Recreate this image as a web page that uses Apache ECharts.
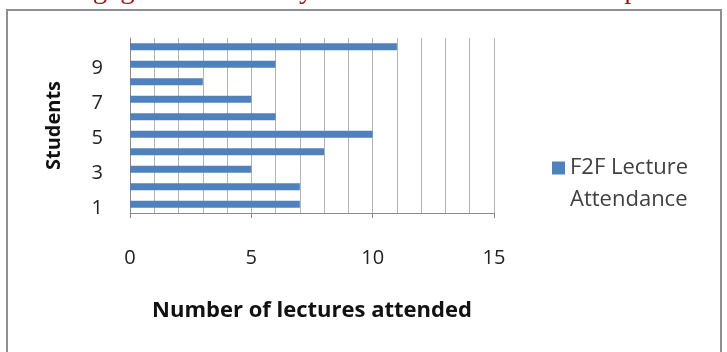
<!DOCTYPE html>
<html>
<head>
<meta charset="utf-8">
<script src="https://cdn.jsdelivr.net/npm/echarts@6/dist/echarts.min.js"></script>
<style>
  html, body { margin: 0; padding: 0; background: #fff; }
  #chart { width: 727px; height: 352px; }
</style>
</head>
<body>
<div id="chart"></div>
<script>
// Lecture attendance per student
const students = ['1', '2', '3', '4', '5', '6', '7', '8', '9', '10'];
const attendance = [7, 7, 5, 8, 10, 6, 5, 3, 6, 11];
const seriesName = 'F2F Lecture Attendance';
const xTicks = [0, 5, 10, 15];

const FONT = '"Open Sans", "Noto Sans", sans-serif';
const gridColor = '#b4b4b4';
const axisColor = '#8a8a8a';

const chart = echarts.init(document.getElementById('chart'), null, { renderer: 'canvas' });

chart.setOption({
  backgroundColor: '#ffffff',
  animation: false,
  graphic: [
    {
      type: 'text',
      left: -3,
      top: -24,
      silent: true,
      style: {
        text: 'show engagement that they are unable to convert into positive',
        font: '29px "Liberation Serif", "DejaVu Serif", serif',
        fill: '#9b1b1b'
      }
    },
    {
      type: 'rect',
      silent: true,
      shape: { x: 7, y: 10, width: 714, height: 360 },
      style: { fill: 'none', stroke: '#8f8f8f', lineWidth: 2 }
    }
  ],
  grid: { left: 130, right: 233, top: 38, bottom: 139, containLabel: false },
  legend: {
    left: 547,
    top: 115,
    padding: 5,
    itemWidth: 13,
    itemHeight: 13,
    itemGap: 0,
    icon: 'rect',
    // leading blank line keeps the swatch level with the first text line
    formatter: () => '\nF2F Lecture\nAttendance',
    textStyle: {
      fontFamily: FONT,
      fontSize: 22,
      color: '#404040',
      lineHeight: 32
    },
    data: [seriesName]
  },
  xAxis: {
    type: 'value',
    min: xTicks[0],
    max: xTicks[xTicks.length - 1],
    interval: 5,
    name: 'Number of lectures attended',
    nameLocation: 'middle',
    nameGap: 87,
    nameTextStyle: { fontFamily: FONT, fontSize: 22, fontWeight: 'bold', color: '#111' },
    axisLine: { show: true, lineStyle: { color: axisColor, width: 1 } },
    axisTick: { show: true, length: 5, lineStyle: { color: axisColor } },
    minorTick: { show: false, splitNumber: 5 },
    axisLabel: { margin: 35, fontFamily: FONT, fontSize: 20, color: '#222' },
    splitLine: { show: true, lineStyle: { color: gridColor, width: 1 } },
    minorSplitLine: { show: true, lineStyle: { color: gridColor, width: 1 } }
  },
  yAxis: {
    type: 'category',
    data: students,
    name: 'Students',
    nameLocation: 'middle',
    nameGap: 66,
    nameTextStyle: { fontFamily: FONT, fontSize: 20, fontWeight: 'bold', color: '#111' },
    axisLine: { show: true, lineStyle: { color: axisColor, width: 1 } },
    axisTick: { show: false },
    axisLabel: {
      interval: 1, margin: 27, fontFamily: FONT, fontSize: 20, color: '#222',
      verticalAlign: 'top', lineHeight: 8
    },
    splitLine: { show: false }
  },
  series: [
    {
      name: seriesName,
      type: 'bar',
      data: attendance,
      barWidth: 7,
      itemStyle: { color: '#4f81bd' }
    }
  ]
});
</script>
</body>
</html>
